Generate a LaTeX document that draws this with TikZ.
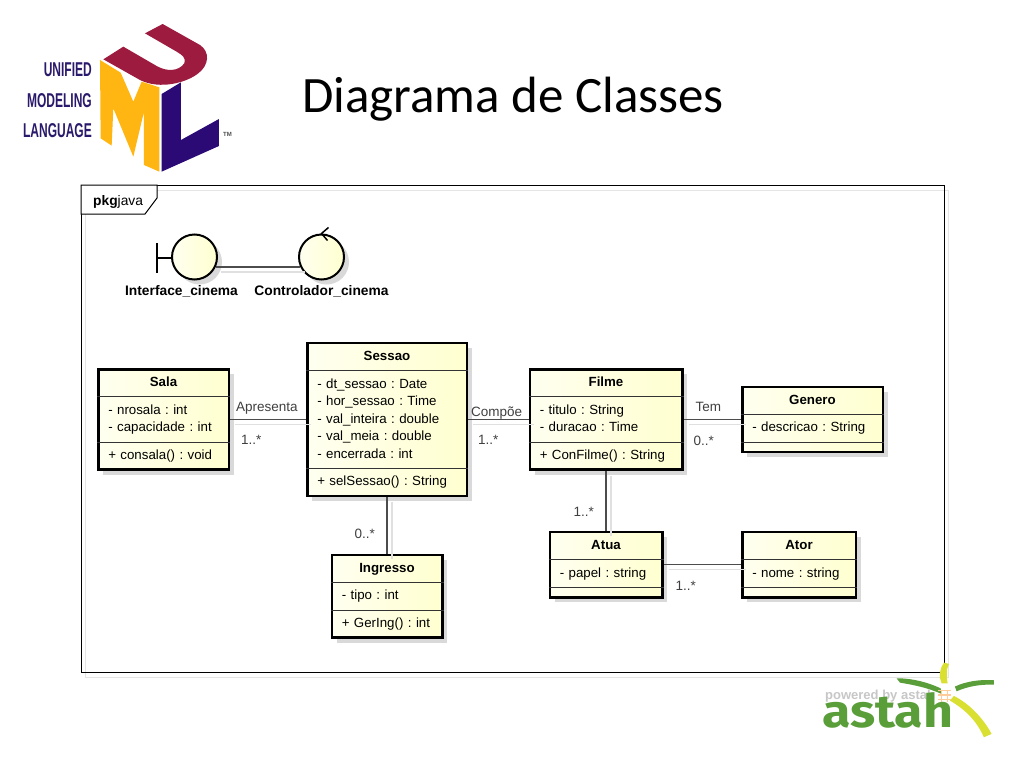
\documentclass[tikz,border=0pt]{standalone}
\usepackage{fontspec}
\setmainfont{Liberation Sans}
\newfontfamily\titlefont{Carlito}
\newfontfamily\astahfont{Fira Sans}
\usetikzlibrary{arrows.meta,positioning,shapes.multipart,shadows,calc}
\definecolor{classlight}{RGB}{255,255,240}
\definecolor{classdark}{RGB}{255,255,208}
\definecolor{umlred}{RGB}{158,27,64}
\definecolor{umlyellow}{RGB}{255,182,18}
\definecolor{umlblue}{RGB}{43,10,117}
\definecolor{umltext}{RGB}{43,26,107}
\definecolor{astahgreen}{RGB}{90,158,58}
\definecolor{astahyellow}{RGB}{218,224,50}
\newcommand{\member}[1]{\strut #1\par}
\newcommand{\classname}[1]{\centering\bfseries\strut #1\par}
\newcommand{\logoword}[1]{\scalebox{0.6}[1]{#1}}
\tikzset{
  umlshadow/.style={drop shadow={shadow xshift=5pt,shadow yshift=-5pt,fill=black!15,opacity=1}},
  splitline/.style={draw=black!80,line width=1pt},
  classbox/.style={
    rectangle split,
    rectangle split parts=3,
    rectangle split draw splits=false,
    rectangle split empty part height=4pt,
    rectangle split empty part depth=0pt,
    draw=black,
    line width=2.5pt,
    left color=classlight,
    right color=classdark,
    umlshadow,
    inner xsep=10pt,
    inner ysep=3.8pt,
    text width=#1,
    font=\fontsize{13.3}{17.5}\selectfont\frenchspacing,
    append after command={
      (\tikzlastnode.text split west) edge[splitline] (\tikzlastnode.text split east)
      (\tikzlastnode.two split west) edge[splitline] (\tikzlastnode.two split east)
    }
  },
  robust/.style={
    circle,
    draw=black,
    line width=2pt,
    inner sep=0pt,
    minimum size=45pt,
    left color=classlight,
    right color=classdark,
    umlshadow
  },
  robustlabel/.style={font=\fontsize{13.8}{15}\selectfont\bfseries, inner sep=0pt},
  assoc/.style={
    draw=black!70,
    line width=1.2pt,
    preaction={draw=black!12,line width=1.2pt,transform canvas={shift={(5pt,-5pt)}}}
  },
  rolelabel/.style={font=\fontsize{13.5}{15}\selectfont, text=black!75, inner sep=0pt},
  logoline/.style={font=\fontsize{20}{22}\selectfont\bfseries, text=umltext, inner sep=0pt},
  pkgframe/.style={
    draw=black,
    line width=1pt,
    outer sep=0pt,
    minimum width=863pt,
    minimum height=487pt,
    preaction={draw=black!10,transform canvas={shift={(4pt,-5pt)}}}
  }
}
\begin{document}
\begin{tikzpicture}[x=1pt,y=-1pt]
  \useasboundingbox (0,0) rectangle (1024,768);
  \fill[white] (0,0) rectangle (1024,768);

  % logo
  \begin{scope}[x=0.3333pt,y=-0.3333pt]
    \fill[umlyellow] (300,180) -- (362,218) -- (400,305) -- (425,245) -- (478,262) -- (478,515) -- (432,495) -- (432,335) -- (400,470) -- (340,325) -- (335,437) -- (302,415) -- cycle;
    \fill[umlblue] (485,282) -- (543,247) -- (543,420) -- (657,357) -- (657,438) -- (485,515) -- cycle;
    \fill[umlred] (310,178) -- (370,140) -- (470,198) .. controls (500,215) and (535,215) .. (553,190) .. controls (558,170) and (545,165) .. (530,155) -- (435,100) -- (488,72) -- (600,135) .. controls (630,155) and (628,195) .. (595,220) .. controls (560,248) and (480,270) .. (420,240) -- cycle;
  \end{scope}
  \node[logoline, anchor=east] (unified) at (92,70) {\logoword{UNIFIED}};
  \node[logoline, below=16pt of unified.south east, anchor=north east] (modeling) {\logoword{MODELING}};
  \node[logoline, below=16pt of modeling.south east, anchor=north east] (language) {\logoword{LANGUAGE}};
  \node[font=\fontsize{6}{7}\selectfont\bfseries, text=black!70, inner sep=0pt] (tm) at (227.5,134.5) {TM};

  \node[font=\fontsize{51}{56}\selectfont\titlefont, inner sep=0pt, anchor=base west] (title) at (302,112) {Diagrama de Classes};

  % package
  \node[pkgframe] (frame) at (512.5,428.5) {};
  \draw[fill=white, line width=1pt] (frame.north west) -- ++(76,0) -- ++(0,13) -- ++(-12,16) -- ++(-64,0) -- cycle;
  \node[font=\fontsize{13.8}{15}\selectfont, inner sep=0pt, below right=10pt and 12pt of frame.north west] (pkgtab) {\textbf{pkg}java};

  % robustness
  \node[robust] (boundary) at (194.5,257) {};
  \node[robust, right=80pt of boundary] (controller) {};
  \coordinate (barmid) at (156.7,258);
  \draw[line width=2pt] (156.7,243) -- (156.7,273);
  \draw[line width=1.5pt] (barmid) -- (boundary.west |- barmid);
  \draw[line width=1.5pt] ($(controller.north)+(7,-6)$) -- (controller.north) -- ($(controller.north)+(6,7)$);
  \draw[assoc] (boundary.-25) -- (controller.-155);
  \node[robustlabel, below=5pt of boundary, xshift=-13pt] (boundarylabel) {Interface\_cinema};
  \node[robustlabel, below=5pt of controller] (controllerlabel) {Controlador\_cinema};

  % classes
  \node[classbox=139.5pt] (sessao) at (387,419.5) {\classname{Sessao}
    \nodepart{two}
    \member{- dt\_sessao : Date}
    \member{- hor\_sessao : Time}
    \member{- val\_inteira : double}
    \member{- val\_meia : double}
    \member{- encerrada : int}
    \nodepart{three}
    \member{+ selSessao() : String}};
  \node[classbox=110.5pt, left=76pt of sessao] (sala) {\classname{Sala}
    \nodepart{two}
    \member{- nrosala : int}
    \member{- capacidade : int}
    \nodepart{three}
    \member{+ consala() : void}};
  \node[classbox=132.5pt, right=60.5pt of sessao] (filme) {\classname{Filme}
    \nodepart{two}
    \member{- titulo : String}
    \member{- duracao : Time}
    \nodepart{three}
    \member{+ ConFilme() : String}};
  \node[classbox=120.5pt, right=57.5pt of filme] (genero) {\classname{Genero}
    \nodepart{two}
    \member{- descricao : String}
    \nodepart{three}};
  \node[classbox=90.5pt, below=56.5pt of sessao] (ingresso) {\classname{Ingresso}
    \nodepart{two}
    \member{- tipo : int}
    \nodepart{three}
    \member{+ GerIng() : int}};
  \node[classbox=92.5pt, below=60pt of filme] (atua) {\classname{Atua}
    \nodepart{two}
    \member{- papel : string}
    \nodepart{three}};
  \node[classbox=93.5pt, right=77.5pt of atua] (ator) {\classname{Ator}
    \nodepart{two}
    \member{- nome : string}
    \nodepart{three}};

  % connectors
  \draw[assoc] (sala) -- (sessao);
  \draw[assoc] (sessao) -- (filme);
  \draw[assoc] (filme) -- (genero);
  \draw[assoc] (sessao) -- (ingresso);
  \draw[assoc] (filme) -- (atua);
  \draw[assoc] (atua) -- (ator);

  % labels
  \node[rolelabel, above right=5pt and 6pt of sala.east] (apresenta) {Apresenta};
  \node[rolelabel, below right=16pt and 11pt of sala.east] (salamult) {1..*};
  \node[rolelabel, above right=0pt and 3pt of sessao.east] (compoe) {Compõe};
  \node[rolelabel, below right=16pt and 10pt of sessao.east] (filmemult) {1..*};
  \node[rolelabel, above right=8pt and 12pt of filme.east] (tem) {Tem};
  \node[rolelabel, below right=16pt and 10pt of filme.east] (generomult) {0..*};
  \node[rolelabel, below left=32pt and 12pt of sessao.south] (ingressomult) {0..*};
  \node[rolelabel, below left=36pt and 12pt of filme.south] (atuamult) {1..*};
  \node[rolelabel, below right=16pt and 12pt of atua.east] (atormult) {1..*};

  % astah
  \begin{scope}[x=0.3333pt,y=-0.3333pt,shift={(2400,1950)}]
    \fill[astahgreen] (290,85) .. controls (340,85) and (385,98) .. (422,115) -- (425,132) .. controls (380,112) and (340,105) .. (300,98) -- cycle;
    \fill[astahgreen] (465,110) .. controls (500,93) and (545,88) .. (582,91) -- (582,104) .. controls (540,103) and (505,109) .. (470,124) -- cycle;
    \fill[astahyellow] (432,38) -- (447,42) .. controls (438,60) and (440,80) .. (443,100) -- (425,100) .. controls (415,80) and (420,55) .. (432,38) -- cycle;
    \fill[astahyellow] (462,138) .. controls (510,162) and (552,208) .. (575,252) -- (552,262) .. controls (530,212) and (495,178) .. (450,152) -- cycle;
    \draw[orange!40, line width=1.2pt] (415,122) -- (452,122) (415,135) -- (452,135) (415,148) -- (452,148) (425,120) -- (425,155) (442,120) -- (442,155);
  \end{scope}
  \node[font=\fontsize{13}{14}\selectfont\bfseries, text=black!22, inner sep=0pt, anchor=west] (powered) at (825,696) {powered by astah};
  \node[font=\fontsize{46}{50}\selectfont\astahfont\bfseries, text=astahgreen, inner sep=0pt, anchor=base west] (astah) at (822,727) {\scalebox{1.13}[1]{astah}};
\end{tikzpicture}
\end{document}
